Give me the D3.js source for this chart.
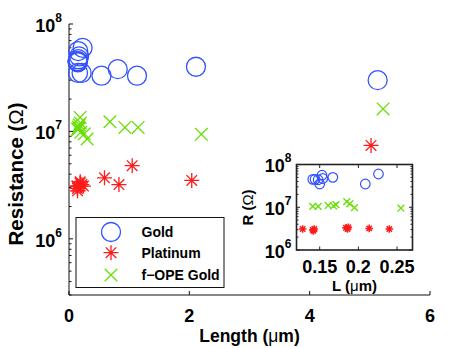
<!DOCTYPE html>
<html>
<head>
<meta charset="utf-8">
<script src="https://cdn.jsdelivr.net/npm/d3@7"></script>
<style>
  body { margin: 0; background: #fff; }
  svg { display: block; }
  text { font-family: "Liberation Sans", Arial, sans-serif; font-weight: bold; fill: #000; }
  .sym { font-weight: normal; }
</style>
</head>
<body>
<svg id="chart" width="463" height="348"></svg>
<script>
// gold nanowires
var goldL = [0.141, 0.144, 0.148, 0.150, 0.153, 0.154, 0.167, 0.209, 0.226, 0.54, 0.81, 1.13, 2.11, 5.13];
var goldR = [4.5e7, 4.5e7, 4.4e7, 3.5e7, 5.6e7, 4.7e7, 5.0e7, 3.5e7, 6.0e7, 3.3e7, 3.8e7, 3.3e7, 4.0e7, 3.0e7];
// platinum
var ptL = [0.128, 0.141, 0.142, 0.143, 0.184, 0.186, 0.187, 0.214, 0.240, 0.59, 0.83, 1.05, 2.04, 5.02];
var ptR = [3.1e6, 2.95e6, 2.8e6, 3.1e6, 3.3e6, 3.1e6, 3.4e6, 3.2e6, 3.1e6, 3.7e6, 3.2e6, 4.8e6, 3.5e6, 7.4e6];
// f-OPE gold
var opeL = [0.141, 0.148, 0.161, 0.168, 0.171, 0.185, 0.189, 0.195, 0.255, 0.30, 0.68, 0.93, 1.15, 2.20, 5.22];
var opeR = [1.05e7, 1.05e7, 1.1e7, 1.07e7, 1.15e7, 1.35e7, 1.2e7, 9.8e6, 9.5e6, 8.5e6, 1.23e7, 1.09e7, 1.09e7, 9.4e6, 1.62e7];

var seriesNames = ["Gold", "Platinum", "f\u2212OPE Gold"];
var xTicks = [0, 2, 4, 6];
var yTicks = [1e6, 1e7, 1e8];
var insetXTicks = [0.15, 0.2, 0.25];
var insetYTicks = [1e6, 1e7, 1e8];

var BLUE = "#3352ff", RED = "#ff1a1a", GREEN = "#66e000";

var svg = d3.select("#chart");

// marker shapes
function circlePath(r) {
  var p = d3.path(); p.moveTo(r, 0); p.arc(0, 0, r, 0, 2 * Math.PI); return p.toString();
}
function starPath(r) {
  var p = d3.path(), d = r * 0.7071;
  p.moveTo(-r, 0); p.lineTo(r, 0);
  p.moveTo(0, -r); p.lineTo(0, r);
  p.moveTo(-d, -d); p.lineTo(d, d);
  p.moveTo(-d, d); p.lineTo(d, -d);
  return p.toString();
}
function crossPath(r) {
  var p = d3.path();
  p.moveTo(-r, -r); p.lineTo(r, r);
  p.moveTo(-r, r); p.lineTo(r, -r);
  return p.toString();
}

function zip(L, R) {
  return L.map(function(l, i) { return { L: l, R: R[i] }; });
}

function drawSeries(g, data, x, y, path, color, sw) {
  var dom = x.domain();
  g.selectAll(null)
    .data(data.filter(function(d) { return d.L >= dom[0] && d.L <= dom[1]; }))
    .enter().append("path")
    .attr("d", path)
    .attr("transform", function(d) { return "translate(" + x(d.L) + "," + y(d.R) + ")"; })
    .attr("fill", "none")
    .attr("stroke", color)
    .attr("stroke-width", sw);
}

function powLabel(g, txt, sup, xa, ya, size, supSize, supDy) {
  var t = g.append("text").attr("x", xa).attr("y", ya).attr("text-anchor", "end")
    .style("font-size", size + "px");
  t.append("tspan").text(txt);
  t.append("tspan").attr("dy", supDy).style("font-size", supSize + "px").text(sup);
}

// label with a greek unit in normal weight, like matlab's symbol font
function unitLabel(g, pre, sym, post) {
  var t = g.append("text");
  t.append("tspan").text(pre);
  t.append("tspan").attr("class", "sym").text(sym);
  t.append("tspan").text(post);
  return t;
}

function minorTicks(domain) {
  var out = [];
  var lo = Math.floor(Math.log10(domain[0])), hi = Math.ceil(Math.log10(domain[1]));
  for (var e = lo; e < hi; e++) {
    for (var k = 2; k <= 9; k++) {
      var v = k * Math.pow(10, e);
      if (v >= domain[0] && v <= domain[1]) out.push(v);
    }
  }
  return out;
}

// ---------------- main axes ----------------
var x = d3.scaleLinear().domain([0, 6]).range([69, 430]);
var y = d3.scaleLog().domain([3e5, 1e8]).range([295, 24]);

var axisG = svg.append("g").attr("stroke", "#111").attr("stroke-width", 1);
axisG.append("line").attr("x1", x(0)).attr("x2", x(0)).attr("y1", y(3e5)).attr("y2", y(1e8));
axisG.append("line").attr("x1", x(0)).attr("x2", x(6)).attr("y1", y(3e5)).attr("y2", y(3e5));
xTicks.forEach(function(t) {
  axisG.append("line").attr("x1", x(t)).attr("x2", x(t)).attr("y1", y(3e5)).attr("y2", y(3e5) - 4);
});
yTicks.forEach(function(t) {
  axisG.append("line").attr("x1", x(0)).attr("x2", x(0) + 4).attr("y1", y(t)).attr("y2", y(t));
});
minorTicks(y.domain()).forEach(function(t) {
  axisG.append("line").attr("x1", x(0)).attr("x2", x(0) + 2.5).attr("y1", y(t)).attr("y2", y(t));
});

xTicks.forEach(function(t) {
  svg.append("text").attr("x", x(t)).attr("y", 322).attr("text-anchor", "middle")
    .style("font-size", "18px").text(t);
});
yTicks.forEach(function(t) {
  powLabel(svg, "10", Math.round(Math.log10(t)), 62, y(t) + 8, 18, 12, -10);
});

unitLabel(svg, "Length (", "\u03bc", "m)")
  .attr("x", (x(0) + x(6)) / 2).attr("y", 341.5).attr("text-anchor", "middle")
  .style("font-size", "17.5px");
unitLabel(svg, "Resistance (", "\u03a9", ")")
  .attr("transform", "translate(22.5,174) rotate(-90)").attr("text-anchor", "middle")
  .style("font-size", "20.5px");

var plotG = svg.append("g");
drawSeries(plotG, zip(goldL, goldR), x, y, circlePath(9.5), BLUE, 1.3);
drawSeries(plotG, zip(ptL, ptR), x, y, starPath(7.5), RED, 1.3);
drawSeries(plotG, zip(opeL, opeR), x, y, crossPath(6.3), GREEN, 1.3);

// ---------------- legend ----------------
var leg = svg.append("g");
leg.append("rect").attr("x", 76).attr("y", 217.5).attr("width", 148).attr("height", 70)
  .attr("fill", "#fff").attr("stroke", "#111").attr("stroke-width", 1);
var legRows = [
  { y: 232, path: circlePath(9.5), color: BLUE },
  { y: 252.7, path: starPath(7.5), color: RED },
  { y: 275, path: crossPath(6.3), color: GREEN }
];
legRows.forEach(function(r, i) {
  leg.append("path").attr("d", r.path).attr("transform", "translate(111," + r.y + ")")
    .attr("fill", "none").attr("stroke", r.color).attr("stroke-width", 1.3);
  leg.append("text").attr("x", 141.5).attr("y", r.y + 5).style("font-size", "14px").text(seriesNames[i]);
});

// ---------------- inset ----------------
var xi = d3.scaleLinear().domain([0.12, 0.27]).range([296.5, 412.5]);
var yi = d3.scaleLog().domain([1e6, 1e8]).range([250, 164.5]);

var inset = svg.append("g");
inset.append("rect").attr("x", xi(0.12)).attr("y", yi(1e8))
  .attr("width", xi(0.27) - xi(0.12)).attr("height", yi(1e6) - yi(1e8))
  .attr("fill", "#fff");

var insetData = inset.append("g");
drawSeries(insetData, zip(goldL, goldR), xi, yi, circlePath(4.8), BLUE, 1.2);
drawSeries(insetData, zip(ptL, ptR), xi, yi, starPath(3.8), RED, 1.5);
drawSeries(insetData, zip(opeL, opeR), xi, yi, crossPath(3.4), GREEN, 1.3);

var iax = inset.append("g").attr("stroke", "#222").attr("stroke-width", 1);
insetXTicks.forEach(function(t) {
  iax.append("line").attr("x1", xi(t)).attr("x2", xi(t)).attr("y1", yi(1e6)).attr("y2", yi(1e6) - 3.5);
  iax.append("line").attr("x1", xi(t)).attr("x2", xi(t)).attr("y1", yi(1e8)).attr("y2", yi(1e8) + 3.5);
});
insetYTicks.forEach(function(t) {
  iax.append("line").attr("x1", xi(0.12)).attr("x2", xi(0.12) + 3.5).attr("y1", yi(t)).attr("y2", yi(t));
  iax.append("line").attr("x1", xi(0.27)).attr("x2", xi(0.27) - 3.5).attr("y1", yi(t)).attr("y2", yi(t));
});
minorTicks(yi.domain()).forEach(function(t) {
  iax.append("line").attr("x1", xi(0.12)).attr("x2", xi(0.12) + 2).attr("y1", yi(t)).attr("y2", yi(t));
  iax.append("line").attr("x1", xi(0.27)).attr("x2", xi(0.27) - 2).attr("y1", yi(t)).attr("y2", yi(t));
});
inset.append("rect").attr("x", xi(0.12)).attr("y", yi(1e8))
  .attr("width", xi(0.27) - xi(0.12)).attr("height", yi(1e6) - yi(1e8))
  .attr("fill", "none").attr("stroke", "#222").attr("stroke-width", 1.6);

insetXTicks.forEach(function(t) {
  inset.append("text").attr("x", xi(t)).attr("y", 272.5).attr("text-anchor", "middle")
    .style("font-size", "18px").text(t);
});
insetYTicks.forEach(function(t) {
  powLabel(inset, "10", Math.round(Math.log10(t)), 291.5, yi(t) + 7.5, 18, 12, -10);
});
unitLabel(inset, "L (", "\u03bc", "m)")
  .attr("x", (xi(0.12) + xi(0.27)) / 2).attr("y", 291).attr("text-anchor", "middle")
  .style("font-size", "15px");
unitLabel(inset, "R (", "\u03a9", ")")
  .attr("transform", "translate(253.3,207.5) rotate(-90)").attr("text-anchor", "middle")
  .style("font-size", "15px");
</script>
</body>
</html>
